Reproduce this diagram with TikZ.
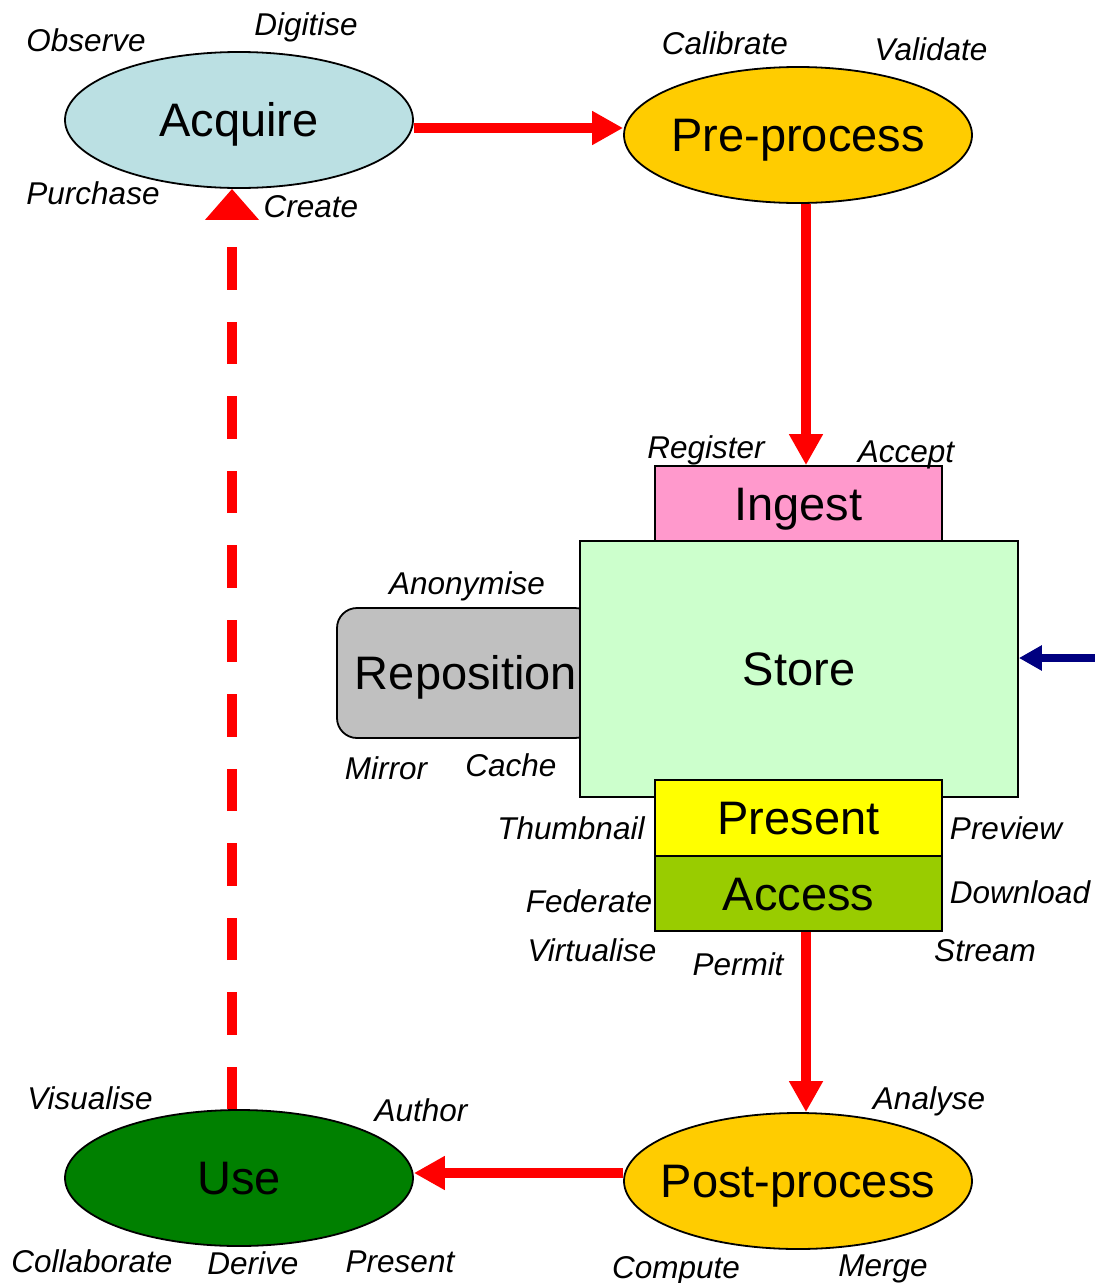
\documentclass[tikz,border=0pt]{standalone}
\usepackage{fontspec}
\setmainfont{Liberation Sans}
\usetikzlibrary{arrows.meta,shapes.geometric,calc}
\definecolor{acqblue}{RGB}{187,224,227}
\definecolor{gold}{RGB}{255,204,0}
\definecolor{pinkish}{RGB}{255,153,204}
\definecolor{mint}{RGB}{204,255,204}
\definecolor{greyish}{RGB}{192,192,192}
\definecolor{yel}{RGB}{255,255,0}
\definecolor{lime}{RGB}{153,204,0}
\definecolor{dgreen}{RGB}{0,128,0}
\definecolor{navyblue}{RGB}{0,0,128}
\begin{document}
\begin{tikzpicture}[x=1pt,y=-1pt,
 lab/.style={font=\fontsize{31.5}{34}\selectfont\itshape, inner sep=0pt, text height=22.5pt, text depth=0pt},
 big/.style={font=\fontsize{47}{50}\selectfont, inner sep=0pt, text height=33.6pt, text depth=0pt},
 ell/.style={ellipse, draw=black, line width=1.8pt, minimum width=348pt, minimum height=136pt, big, inner xsep=-20pt},
 boxnode/.style={rectangle, draw=black, line width=1.8pt, big},
 redarr/.style={draw=red, line width=10.5pt, -{Triangle[length=31pt,width=32pt]}},
]
\useasboundingbox (0,0) rectangle (1095,1283);

% shapes
\node[ell, fill=acqblue] (acq) at (239,120) {Acquire};
\node[ell, fill=gold] (pre) at (798,135) {Pre-process};
\node[ell, fill=gold] (post) at (798,1181) {Post-process};
\node[ell, fill=dgreen] (use) at (239,1178) {Use};

\node[boxnode, rounded corners=20pt, fill=greyish, minimum width=258pt, minimum height=130pt] (rep) at (466,673) {Reposition};
\node[boxnode, fill=mint, minimum width=438pt, minimum height=256pt] (store) at (799,669) {Store};
\node[boxnode, fill=pinkish, minimum width=287pt, minimum height=75pt] (ingest) at (798.5,503.5) {Ingest};
\node[boxnode, fill=yel, minimum width=287pt, minimum height=76pt] (present) at (798.5,818) {Present};
\node[boxnode, fill=lime, minimum width=287pt, minimum height=75pt] (access) at (798.5,893.5) {Access};

% connectors
\draw[redarr] (acq.east |- 0,128) -- (pre.west |- 0,128);
\draw[redarr] (pre.south -| 806,0) -- (ingest.north -| 806,0);
\draw[redarr] (access.south -| 806,0) -- (post.north -| 806,0);
\draw[redarr] (post.west |- 0,1173) -- (use.east |- 0,1173);
\draw[draw=red, line width=10.5pt, dash pattern=on 42.5pt off 32pt,
  -{Triangle[length=31pt,width=52pt]}] (use.north -| 232,0) -- (acq.south -| 232,0);
\coordinate (bluestart) at (1095,658);
\draw[draw=navyblue, line width=8pt, -{Triangle[length=23pt,width=24pt]}] (bluestart) -- (store.east |- bluestart);

% labels
\node[lab] (l1) at (86,40) {Observe};
\node[lab] (l2) at (306,24) {Digitise};
\node[lab] (l3) at (93,193) {Purchase};
\node[lab] (l4) at (311,206) {Create};
\node[lab] (l5) at (725,43) {Calibrate};
\node[lab] (l6) at (931,49) {Validate};
\node[lab] (l7) at (706,447) {Register};
\node[lab] (l8) at (906,451) {Accept};
\node[lab] (l9) at (467,583) {Anonymise};
\node[lab] (l10) at (386,768) {Mirror};
\node[lab] (l11) at (511,765) {Cache};
\node[lab] (l12) at (571,828) {Thumbnail};
\node[lab] (l13) at (1006,828) {Preview};
\node[lab] (l14) at (589,901) {Federate};
\node[lab] (l15) at (1020,892) {Download};
\node[lab] (l16) at (592,950) {Virtualise};
\node[lab] (l17) at (738,964) {Permit};
\node[lab] (l18) at (985,950) {Stream};
\node[lab] (l19) at (90,1098) {Visualise};
\node[lab] (l20) at (421,1110) {Author};
\node[lab] (l21) at (929,1098) {Analyse};
\node[lab] (l22) at (92,1261) {Collaborate};
\node[lab] (l23) at (253,1263) {Derive};
\node[lab] (l24) at (400,1261) {Present};
\node[lab] (l25) at (676,1267) {Compute};
\node[lab] (l26) at (883,1265) {Merge};
\end{tikzpicture}
\end{document}
